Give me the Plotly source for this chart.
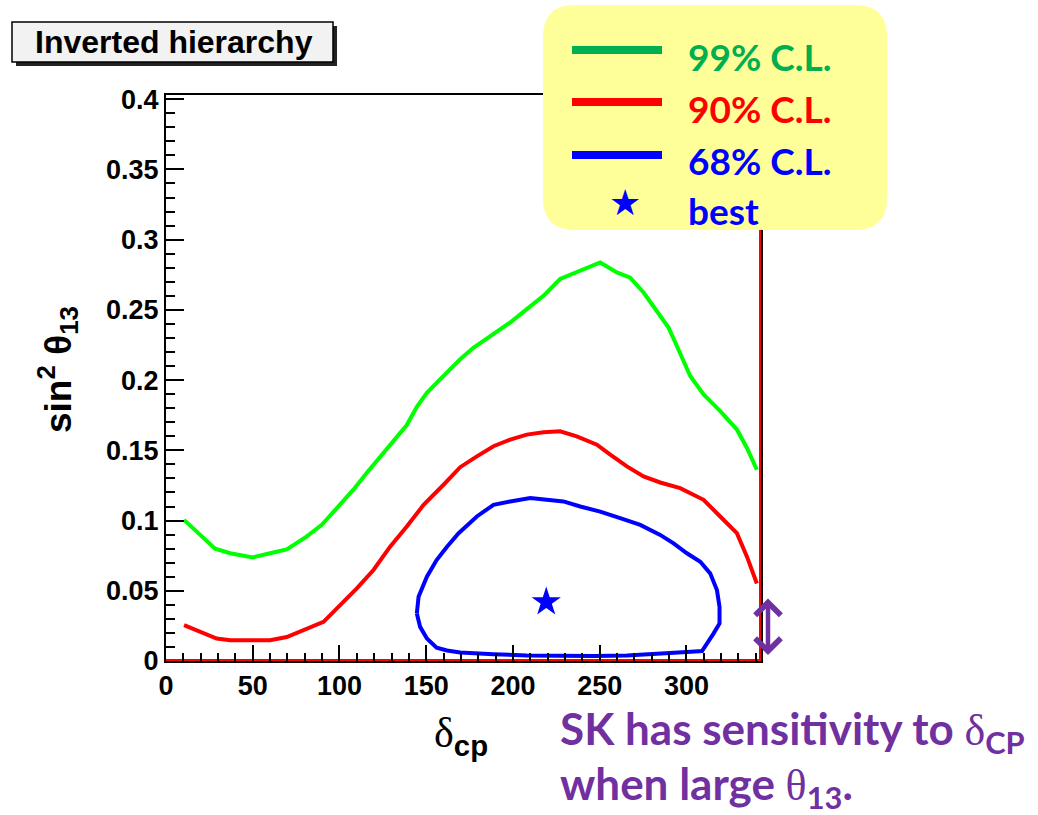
import plotly.graph_objects as go

# ---- contour data: delta_CP (deg) vs sin^2(theta13), inverted hierarchy ----
cl99_delta = [10.4, 20, 28.3, 37, 50, 60, 69.6, 81, 89.8, 98.5, 108, 115.8, 125.4, 131,
              138.8, 144.6, 150.4, 160, 169.6, 177.2, 188.8, 198.4, 208, 217.6, 227.2,
              238.8, 250.3, 259.9, 267.6, 275.3, 283, 289.7, 294.5, 302.2, 309.9, 319.5,
              329.1, 334.9, 340.6]
cl99_s13 = [0.1005, 0.090, 0.080, 0.0767, 0.0738, 0.0767, 0.0795, 0.0886, 0.097, 0.1088,
            0.122, 0.134, 0.148, 0.156, 0.168, 0.181, 0.191, 0.203, 0.2148, 0.223, 0.2326,
            0.241, 0.2505, 0.26, 0.272, 0.2779, 0.2838, 0.2767, 0.273, 0.2624, 0.2493,
            0.2374, 0.2243, 0.2029, 0.1898, 0.1779, 0.1648, 0.1517, 0.1362]

cl90_delta = [10.4, 19.6, 29.2, 37, 50, 60, 69.6, 81, 90.8, 100.4, 110, 119.6, 129.2, 138.8,
              148.5, 160, 169.6, 179.2, 188.8, 198.4, 208, 217.6, 227.2, 236.8, 248.4, 256.1,
              265.7, 275.3, 284.9, 296.4, 309.9, 319.5, 329.1, 334.9, 340.6]
cl90_s13 = [0.0255, 0.0207, 0.016, 0.0148, 0.0148, 0.0148, 0.0171, 0.023, 0.0279, 0.0398,
            0.0517, 0.0648, 0.0814, 0.0957, 0.1112, 0.1255, 0.138, 0.1457, 0.1529, 0.1576,
            0.1612, 0.1629, 0.1636, 0.16, 0.154, 0.1469, 0.1386, 0.1314, 0.1271, 0.1231,
            0.1148, 0.1029, 0.091, 0.0743, 0.0552]

cl68_delta = [144.6, 145.6, 150.4, 156, 162, 168.7, 179.2, 188.8, 198.4, 210, 219.5, 229.1,
              238.8, 250.3, 261.8, 273.4, 284.9, 292.6, 300.3, 308, 313.7, 317.6, 319.1,
              319.1, 315.6, 311.8, 309, 300.3, 284.9, 265.7, 246.4, 227.2, 208, 188.8,
              169.6, 162, 156, 150.4, 146.5, 144.6]
cl68_s13 = [0.0338, 0.0457, 0.06, 0.0719, 0.0814, 0.091, 0.1029, 0.1112, 0.1136, 0.116,
            0.1148, 0.1136, 0.11, 0.1064, 0.1017, 0.0969, 0.0898, 0.0838, 0.0767, 0.0707,
            0.0624, 0.0505, 0.0386, 0.0267, 0.0195, 0.0124, 0.0071, 0.0064, 0.0052, 0.004,
            0.0036, 0.0036, 0.004, 0.0048, 0.006, 0.0075, 0.0095, 0.016, 0.0243, 0.0338]

# 90% region also closes along the histogram boundary
edge_delta = [0, 343, 343]
edge_s13 = [0, 0, 0.403]

best_delta = [219.2]
best_s13 = [0.042]

x_range = [0, 343]
y_range = [0, 0.403]

legend_labels = ["99% C.L.", "90% C.L.", "68% C.L.", "best"]

# ---- page geometry (pixels) ----
W, H = 1038, 815
L, R, T, B = 166, 761, 95, 661


def px(x):
    return (x - L) / (R - L)


def py(y):
    return (B - y) / (B - T)


ROOT_GREEN = "#00ff00"
ROOT_RED = "#ff0000"
ROOT_BLUE = "#0000ff"
PURPLE = "#7030a0"
SANS = "Liberation Sans, Arial, sans-serif"
SERIF = "Liberation Serif, serif"

fig = go.Figure()

fig.add_trace(go.Scatter(x=edge_delta, y=edge_s13, mode="lines",
                         line=dict(color=ROOT_RED, width=4), showlegend=False))
fig.add_trace(go.Scatter(x=cl99_delta, y=cl99_s13, mode="lines",
                         line=dict(color=ROOT_GREEN, width=4), showlegend=False))
fig.add_trace(go.Scatter(x=cl90_delta, y=cl90_s13, mode="lines",
                         line=dict(color=ROOT_RED, width=4), showlegend=False))
fig.add_trace(go.Scatter(x=cl68_delta, y=cl68_s13, mode="lines",
                         line=dict(color=ROOT_BLUE, width=4), showlegend=False))
fig.add_trace(go.Scatter(x=best_delta, y=best_s13, mode="markers",
                         marker=dict(symbol="star", size=22, color=ROOT_BLUE),
                         showlegend=False))

tickfont = dict(family=SANS, size=27, color="black", weight="bold")

fig.update_xaxes(range=x_range, dtick=50, tick0=0, ticks="inside", ticklen=16,
                 tickwidth=1.5, tickcolor="black", showline=True, linecolor="black",
                 linewidth=2, mirror=True, showgrid=False, zeroline=False,
                 tickfont=tickfont,
                 minor=dict(dtick=10, ticks="inside", ticklen=8, tickwidth=1.5,
                            tickcolor="black", showgrid=False))
fig.update_yaxes(range=y_range, dtick=0.05, tick0=0, ticks="inside", ticklen=18,
                 tickwidth=1.5, tickcolor="black", showline=True, linecolor="black",
                 linewidth=2, mirror=True, showgrid=False, zeroline=False,
                 tickfont=tickfont,
                 minor=dict(dtick=0.01, ticks="inside", ticklen=9, tickwidth=1.5,
                            tickcolor="black", showgrid=False))

shapes = []
annotations = []

# title box with drop shadow
shapes.append(dict(type="rect", xref="paper", yref="paper", x0=px(16), x1=px(337),
                   y0=py(26), y1=py(66), fillcolor="#222222", line=dict(width=0)))
shapes.append(dict(type="rect", xref="paper", yref="paper", x0=px(12), x1=px(333),
                   y0=py(22), y1=py(62), fillcolor="#f2f2f2",
                   line=dict(color="black", width=1.5)))
annotations.append(dict(xref="paper", yref="paper", x=px(174), y=py(42),
                        text="Inverted hierarchy", showarrow=False,
                        xanchor="center", yanchor="middle",
                        font=dict(family=SANS, size=32, color="black", weight="bold")))

# axis titles
annotations.append(dict(xref="paper", yref="paper", x=px(57), y=py(370),
                        text="sin<sup>2</sup> θ<sub>13</sub>", showarrow=False,
                        textangle=-90, xanchor="center", yanchor="middle",
                        font=dict(family=SANS, size=37, color="black", weight="bold")))
annotations.append(dict(xref="paper", yref="paper", x=px(461), y=py(736),
                        text=f"δ<sub><span style='font-family:{SANS};font-weight:bold'>"
                             "cp</span></sub>",
                        showarrow=False, xanchor="center", yanchor="middle",
                        font=dict(family=SERIF, size=42, color="black")))

# legend panel: rounded yellow box
bx0, bx1, by0, by1, rad = 543, 887, 5, 230, 32


def rounded_path(x0, x1, y0, y1, r):
    pts = [
        f"M {px(x0 + r)},{py(y0)}",
        f"L {px(x1 - r)},{py(y0)}",
        f"Q {px(x1)},{py(y0)} {px(x1)},{py(y0 + r)}",
        f"L {px(x1)},{py(y1 - r)}",
        f"Q {px(x1)},{py(y1)} {px(x1 - r)},{py(y1)}",
        f"L {px(x0 + r)},{py(y1)}",
        f"Q {px(x0)},{py(y1)} {px(x0)},{py(y1 - r)}",
        f"L {px(x0)},{py(y0 + r)}",
        f"Q {px(x0)},{py(y0)} {px(x0 + r)},{py(y0)}",
        "Z",
    ]
    return " ".join(pts)


shapes.append(dict(type="path", xref="paper", yref="paper",
                   path=rounded_path(bx0, bx1, by0, by1, rad),
                   fillcolor="#ffff99", line=dict(width=0), layer="above"))

legend_colors = ["#00b050", "#ff0000", "#0000ff", "#0000ff"]
line_rows = [50, 102, 155]
text_rows = [57, 109, 160, 210]
for row, col in zip(line_rows, legend_colors[:3]):
    shapes.append(dict(type="line", xref="paper", yref="paper", x0=px(572), x1=px(662),
                       y0=py(row), y1=py(row), line=dict(color=col, width=8),
                       layer="above"))

for lab, row, col in zip(legend_labels, text_rows, legend_colors):
    annotations.append(dict(xref="paper", yref="paper", x=px(686), y=py(row),
                            text=lab, showarrow=False, xanchor="left", yanchor="middle",
                            font=dict(family="Lato, sans-serif", size=37, color=col,
                                      weight="bold")))

annotations.append(dict(xref="paper", yref="paper", x=px(625), y=py(202),
                        text="★", showarrow=False, xanchor="center", yanchor="middle",
                        font=dict(family="DejaVu Sans", size=36, color="#0000ff")))

# purple double arrow beside the axis edge
annotations.append(dict(xref="paper", yref="paper", x=px(768), y=py(655),
                        ax=0, ay=-58, text="", showarrow=True,
                        arrowside="end+start", arrowhead=4, startarrowhead=4,
                        arrowsize=1.1, startarrowsize=1.1, arrowwidth=4.5,
                        arrowcolor=PURPLE))

# comment text
annotations.append(dict(xref="paper", yref="paper", x=px(558), y=py(731),
                        text="SK has sensitivity to "
                             f"<span style='font-family:{SERIF};font-weight:normal'>δ</span>"
                             "<sub>CP</sub>",
                        showarrow=False, xanchor="left", yanchor="middle",
                        font=dict(family="Lato, sans-serif", size=44, color=PURPLE,
                                  weight="bold")))
annotations.append(dict(xref="paper", yref="paper", x=px(558), y=py(786),
                        text="when large "
                             f"<span style='font-family:{SERIF};font-weight:normal'>θ</span>"
                             "<sub>13</sub>.",
                        showarrow=False, xanchor="left", yanchor="middle",
                        font=dict(family="Lato, sans-serif", size=44, color=PURPLE,
                                  weight="bold")))

fig.update_layout(
    width=W, height=H,
    margin=dict(l=L, r=W - R, t=T, b=H - B, pad=0),
    paper_bgcolor="white", plot_bgcolor="white",
    showlegend=False,
    shapes=shapes, annotations=annotations,
)

fig.write_html("out.html")
